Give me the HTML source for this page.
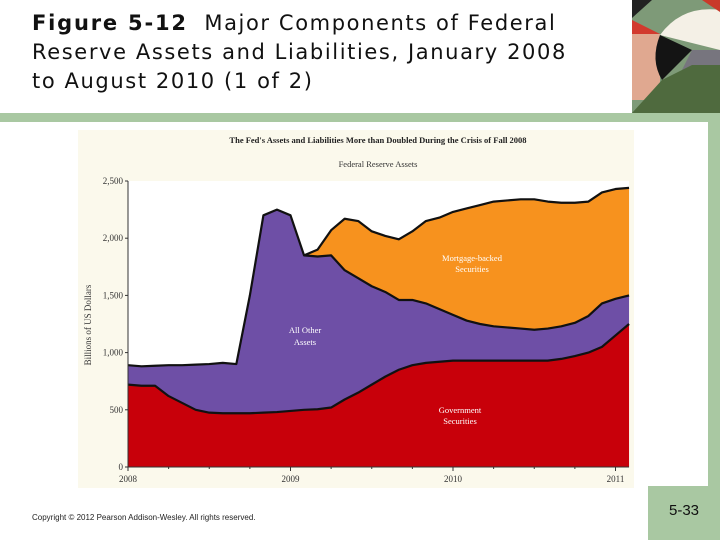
<!DOCTYPE html>
<html><head><meta charset="utf-8"><style>
body{margin:0;width:720px;height:540px;overflow:hidden;background:#fff;font-family:"Liberation Sans",sans-serif;position:relative}
.t{position:absolute;left:32px;top:9px;font-family:"DejaVu Sans",sans-serif;font-size:21px;letter-spacing:1.6px;line-height:29px;color:#111}
</style></head><body>
<div class="t"><b style="letter-spacing:1.8px">Figure 5-12</b>&nbsp; Major Components of Federal<br>Reserve Assets and Liabilities, January 2008<br>to August 2010 (1 of 2)</div>
<svg style="position:absolute;left:632px;top:0" width="88" height="113">
<rect width="88" height="113" fill="#7e9a78"/>
<polygon points="0,0 20,0 0,18" fill="#222"/><polygon points="0,20 28,34 0,34" fill="#d23a2e"/>
<rect x="0" y="34" width="28" height="66" fill="#e0a890"/>
<path d="M28,35 Q50,5 88,10 L88,50 Z" fill="#f4f0e6"/>
<path d="M28,35 Q18,60 30,80 L60,50 Z" fill="#141414"/>
<polygon points="60,50 88,50 88,70 50,70" fill="#77757e"/>
<polygon points="30,80 60,65 88,65 88,113 0,113" fill="#4f6a3e"/>
<polygon points="70,0 88,0 88,12" fill="#c93a2a"/>
</svg>
<div style="position:absolute;left:0;top:113px;width:720px;height:9px;background:#a9c8a2"></div>
<div style="position:absolute;left:708px;top:113px;width:12px;height:427px;background:#a9c8a2"></div>
<div style="position:absolute;left:648px;top:486px;width:72px;height:54px;background:#a9c8a2;font-size:15px;line-height:50px;text-align:center;color:#111">5-33</div>
<div style="position:absolute;left:32px;top:513px;font-size:8px;color:#222">Copyright © 2012 Pearson Addison-Wesley. All rights reserved.</div>
<svg id="ch" style="position:absolute;left:0;top:0" width="720" height="540"></svg>
<script>
const years=["2008","2009","2010","2011"];
const yTicks=[0,500,1000,1500,2000,2500];
const yTickLabels=["0","500","1,000","1,500","2,000","2,500"];
const gov=[720,710,710,620,560,500,475,470,470,470,475,480,490,500,505,520,590,650,720,790,850,890,910,920,930,930,930,930,930,930,930,930,945,970,1000,1050,1150,1250];
const other=[170,170,175,270,330,395,425,440,430,1030,1725,1770,1710,1350,1335,1330,1130,1000,860,740,610,570,520,460,400,350,320,300,290,280,270,280,285,290,320,380,320,250];
const mbs=[0,0,0,0,0,0,0,0,0,0,0,0,0,0,60,220,450,500,480,490,530,600,720,800,900,980,1040,1090,1110,1130,1140,1110,1080,1050,1000,970,960,940];
const NS="http://www.w3.org/2000/svg",svg=document.getElementById('ch');
const X0=128,PY=162.5,Y0=467,PV=0.1144;
const x=m=>X0+m*PY/12, y=v=>Y0-v*PV;
function el(t,a,p){const e=document.createElementNS(NS,t);for(const k in a)e.setAttribute(k,a[k]);(p||svg).appendChild(e);return e;}
const bg=el('rect',{x:78,y:130,width:556,height:358,fill:'#fbf9ec'});


const pa=el('rect',{x:X0,y:y(2500),width:x(gov.length-1)-X0,height:Y0-y(2500),fill:'#fff'});


const n=gov.length;
const c1=gov, c2=gov.map((v,i)=>v+other[i]), c3=c2.map((v,i)=>v+mbs[i]);
function area(top,bot,fill,name){let d='M'+x(0)+','+y(top[0]);for(let i=1;i<n;i++)d+='L'+x(i)+','+y(top[i]);for(let i=n-1;i>=0;i--)d+='L'+x(i)+','+y(bot[i]);
const p=el('path',{d:d+'Z',fill:fill});

}
function line(top,s,name){let d='';for(let i=s;i<n;i++)d+=(i==s?'M':'L')+x(i)+','+y(top[i]);
const p=el('path',{d:d,fill:'none',stroke:'#111','stroke-width':2.2,'stroke-linejoin':'round'});

}
const zero=gov.map(()=>0);
area(c3,c2,'#f7921e','mbs-area');
area(c2,c1,'#6e4fa6','other-assets-area');
area(c1,zero,'#c8000a','gov-securities-area');
line(c3,13,'total-line');line(c2,0,'other-top-line');line(c1,0,'gov-top-line');
const ax=el('path',{d:`M${X0},${y(2500)}V${Y0}H${x(n-1)}`,stroke:'#333','stroke-width':1,fill:'none'});


yTicks.forEach((v,i)=>{el('line',{x1:X0-3,x2:X0,y1:y(v),y2:y(v),stroke:'#333'});
const t=el('text',{x:X0-5,y:y(v)+3,'text-anchor':'end','font-size':9,fill:'#333','font-family':'Liberation Serif, serif'});t.textContent=yTickLabels[i];

});
for(let m=0;m<=37;m+=3)el('line',{x1:x(m),x2:x(m),y1:Y0,y2:Y0+(m%12?2:4),stroke:'#333'});
years.forEach((s,i)=>{const t=el('text',{x:x(i*12),y:Y0+15,'text-anchor':'middle','font-size':9,fill:'#333','font-family':'Liberation Serif, serif'});t.textContent=s;

});
function txt(s,a,name){const t=el('text',Object.assign({'font-family':'Liberation Serif, serif','text-anchor':'middle'},a));t.textContent=s;

return t;}
txt("The Fed's Assets and Liabilities More than Doubled During the Crisis of Fall 2008",{x:378,y:143,'font-size':8.5,'font-weight':'bold',fill:'#222'},'chart-title');
txt("Federal Reserve Assets",{x:378,y:167,'font-size':8.5,fill:'#333'},'chart-subtitle');
txt("Billions of US Dollars",{x:0,y:0,'font-size':9,fill:'#333',transform:'translate(91,325) rotate(-90)'},'y-axis-title');
txt("Mortgage-backed",{x:472,y:261,'font-size':8.5,fill:'#fff'},'mbs-label');
txt("Securities",{x:472,y:272,'font-size':8.5,fill:'#fff'},'mbs-label-2');
txt("All Other",{x:305,y:333,'font-size':8.5,fill:'#fff'},'other-label');
txt("Assets",{x:305,y:345,'font-size':8.5,fill:'#fff'},'other-label-2');
txt("Government",{x:460,y:413,'font-size':8.5,fill:'#fff'},'gov-label');
txt("Securities",{x:460,y:424,'font-size':8.5,fill:'#fff'},'gov-label-2');
</script>
</body></html>
